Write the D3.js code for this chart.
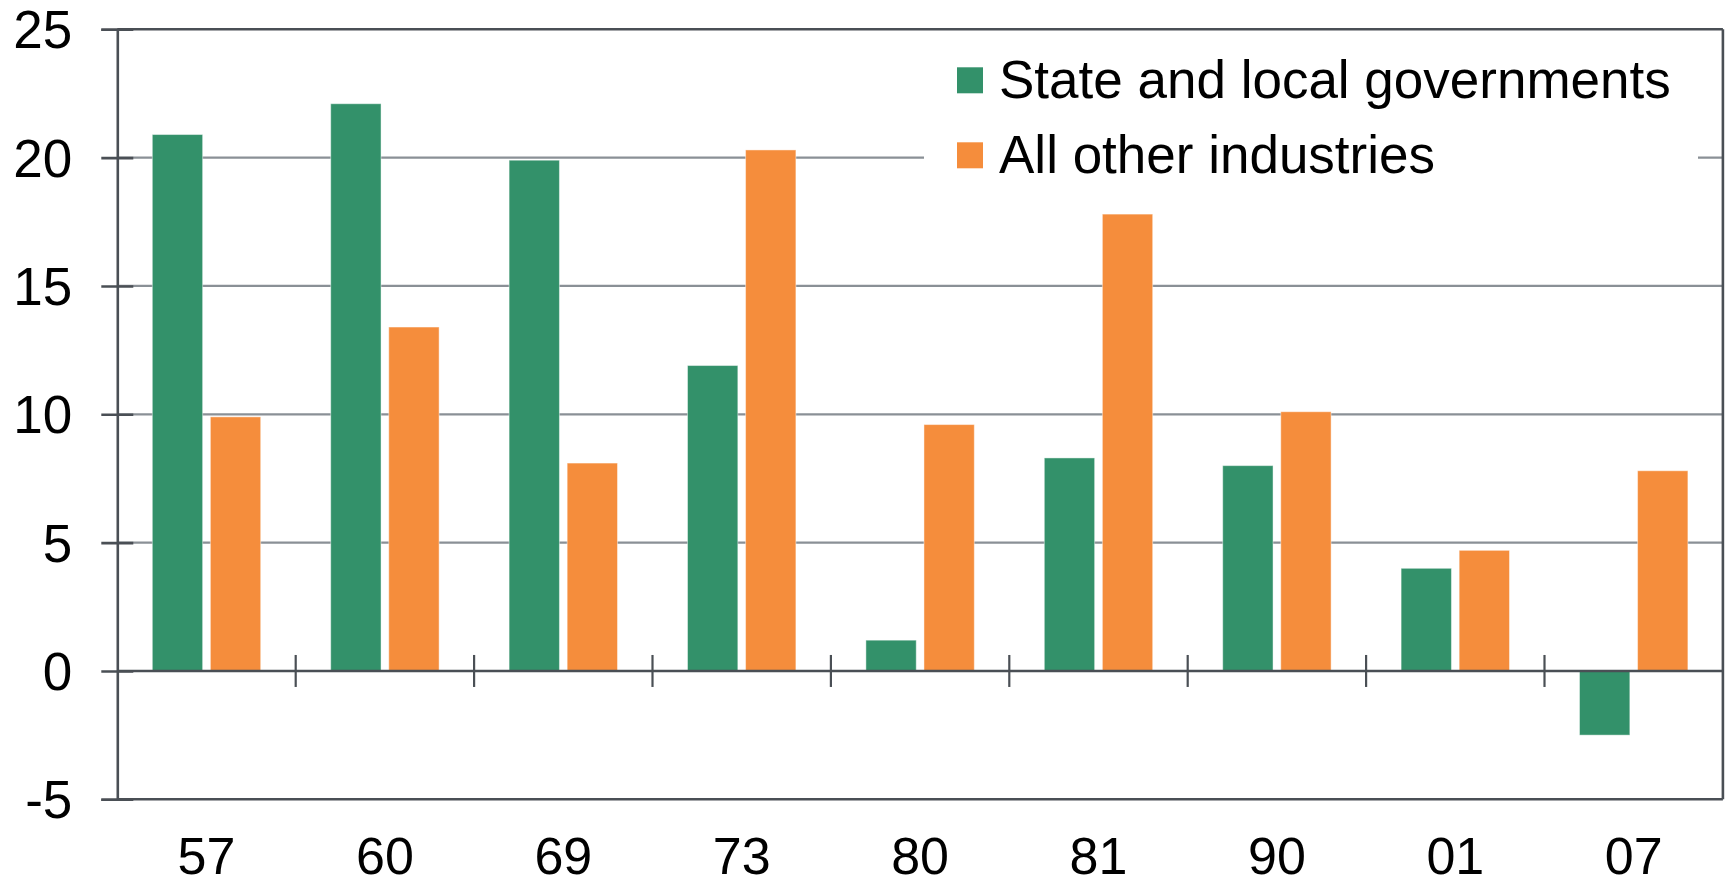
<!DOCTYPE html>
<html>
<head>
<meta charset="utf-8">
<script src="https://cdn.jsdelivr.net/npm/d3@7"></script>
<style>
  html, body { margin: 0; padding: 0; background: #ffffff; }
  svg { display: block; }
  text { font-family: "Liberation Sans", Arial, sans-serif; fill: #000000; }
</style>
</head>
<body>
<svg id="chart" width="1729" height="885"></svg>
<script>
// Recession episodes (year labels) and percent change for each series
const years = ["57", "60", "69", "73", "80", "81", "90", "01", "07"];
const seriesNames = ["State and local governments", "All other industries"];
const stateLocal = [20.9, 22.1, 19.9, 11.9, 1.2, 8.3, 8.0, 4.0, -2.5];
const allOther = [9.9, 13.4, 8.1, 20.3, 9.6, 17.8, 10.1, 4.7, 7.8];
const yTicks = [-5, 0, 5, 10, 15, 20, 25];
const colors = ["#33916a", "#f58d3c"];

const svg = d3.select("#chart");
const plotLeft = 117.3, plotRight = 1722.9, plotTop = 29.3, plotBottom = 799.3;

const rows = years.map((yr, i) => ({ year: yr, values: [stateLocal[i], allOther[i]] }));

const x0 = d3.scaleBand().domain(years).range([plotLeft, plotRight]).padding(0);
const bw = x0.bandwidth();
const x1 = d3.scaleBand().domain([0, 1]).range([35, bw - 35]).paddingInner(0.133).paddingOuter(0);
const y = d3.scaleLinear().domain([-5, 25]).range([plotBottom, plotTop]);

const dark = "#4a4f55";
const grid = "#8a9096";

// horizontal gridlines (interior values only)
svg.append("g").selectAll("line")
  .data(yTicks.filter(v => v > -5 && v < 25 && v !== 0))
  .join("line")
  .attr("x1", plotLeft).attr("x2", plotRight)
  .attr("y1", d => y(d)).attr("y2", d => y(d))
  .attr("stroke", grid).attr("stroke-width", 2.2);

// legend panel hides the gridlines behind it
svg.append("rect")
  .attr("x", 924).attr("y", 40).attr("width", 774).attr("height", 150)
  .attr("fill", "#ffffff");

// bars
const groups = svg.append("g").selectAll("g")
  .data(rows).join("g")
  .attr("transform", d => `translate(${x0(d.year)},0)`);

groups.selectAll("rect")
  .data(d => d.values.map((v, k) => ({ v, k })))
  .join("rect")
  .attr("x", d => x1(d.k))
  .attr("width", x1.bandwidth())
  .attr("y", d => y(Math.max(0, d.v)))
  .attr("height", d => Math.abs(y(d.v) - y(0)))
  .attr("fill", d => colors[d.k])
  .attr("stroke", "#ffffff").attr("stroke-opacity", 0.45).attr("stroke-width", 1);

// frame: top, bottom, right, zero line
const frame = svg.append("g").attr("stroke", dark).attr("stroke-width", 2.6).attr("fill", "none");
frame.append("line").attr("x1", plotLeft).attr("x2", plotRight).attr("y1", y(25)).attr("y2", y(25));
frame.append("line").attr("x1", plotLeft).attr("x2", plotRight).attr("y1", y(-5)).attr("y2", y(-5));
frame.append("line").attr("x1", plotRight).attr("x2", plotRight).attr("y1", y(25)).attr("y2", y(-5));
frame.append("line").attr("x1", plotLeft).attr("x2", plotRight).attr("y1", y(0)).attr("y2", y(0));

// category separators crossing the zero line
svg.append("g").selectAll("line")
  .data(years.slice(1))
  .join("line")
  .attr("x1", d => x0(d)).attr("x2", d => x0(d))
  .attr("y1", y(0) - 16).attr("y2", y(0) + 16)
  .attr("stroke", dark).attr("stroke-width", 2.2);

// value axis
const yAxis = d3.axisLeft(y).tickValues(yTicks).tickSize(16).tickPadding(30)
  .tickFormat(d => String(d));
const yg = svg.append("g").attr("transform", `translate(${plotLeft},0)`).call(yAxis);
yg.select(".domain").attr("stroke", dark).attr("stroke-width", 2.6);
yg.selectAll(".tick line").attr("stroke", dark).attr("stroke-width", 2.6)
  .attr("x1", 16).attr("x2", -16);
yg.selectAll(".tick text")
  .attr("font-size", 53).attr("font-family", "Liberation Sans, Arial, sans-serif")
  .attr("fill", "#000").attr("dy", "0.35em").attr("x", -45);

// category labels
svg.append("g").selectAll("text")
  .data(years).join("text")
  .attr("x", d => x0(d) + bw / 2)
  .attr("y", 874)
  .attr("text-anchor", "middle")
  .attr("font-size", 52)
  .text(d => d);

// legend
const legend = svg.append("g");
const legendRows = seriesNames.map((name, k) => ({ name, k }));
legend.selectAll("rect")
  .data(legendRows).join("rect")
  .attr("x", 957).attr("y", d => 67.3 + d.k * 75)
  .attr("width", 26).attr("height", 26)
  .attr("fill", d => colors[d.k]);
legend.selectAll("text")
  .data(legendRows).join("text")
  .attr("x", 999).attr("y", d => 98 + d.k * 75)
  .attr("font-size", 53)
  .text(d => d.name);
</script>
</body>
</html>
